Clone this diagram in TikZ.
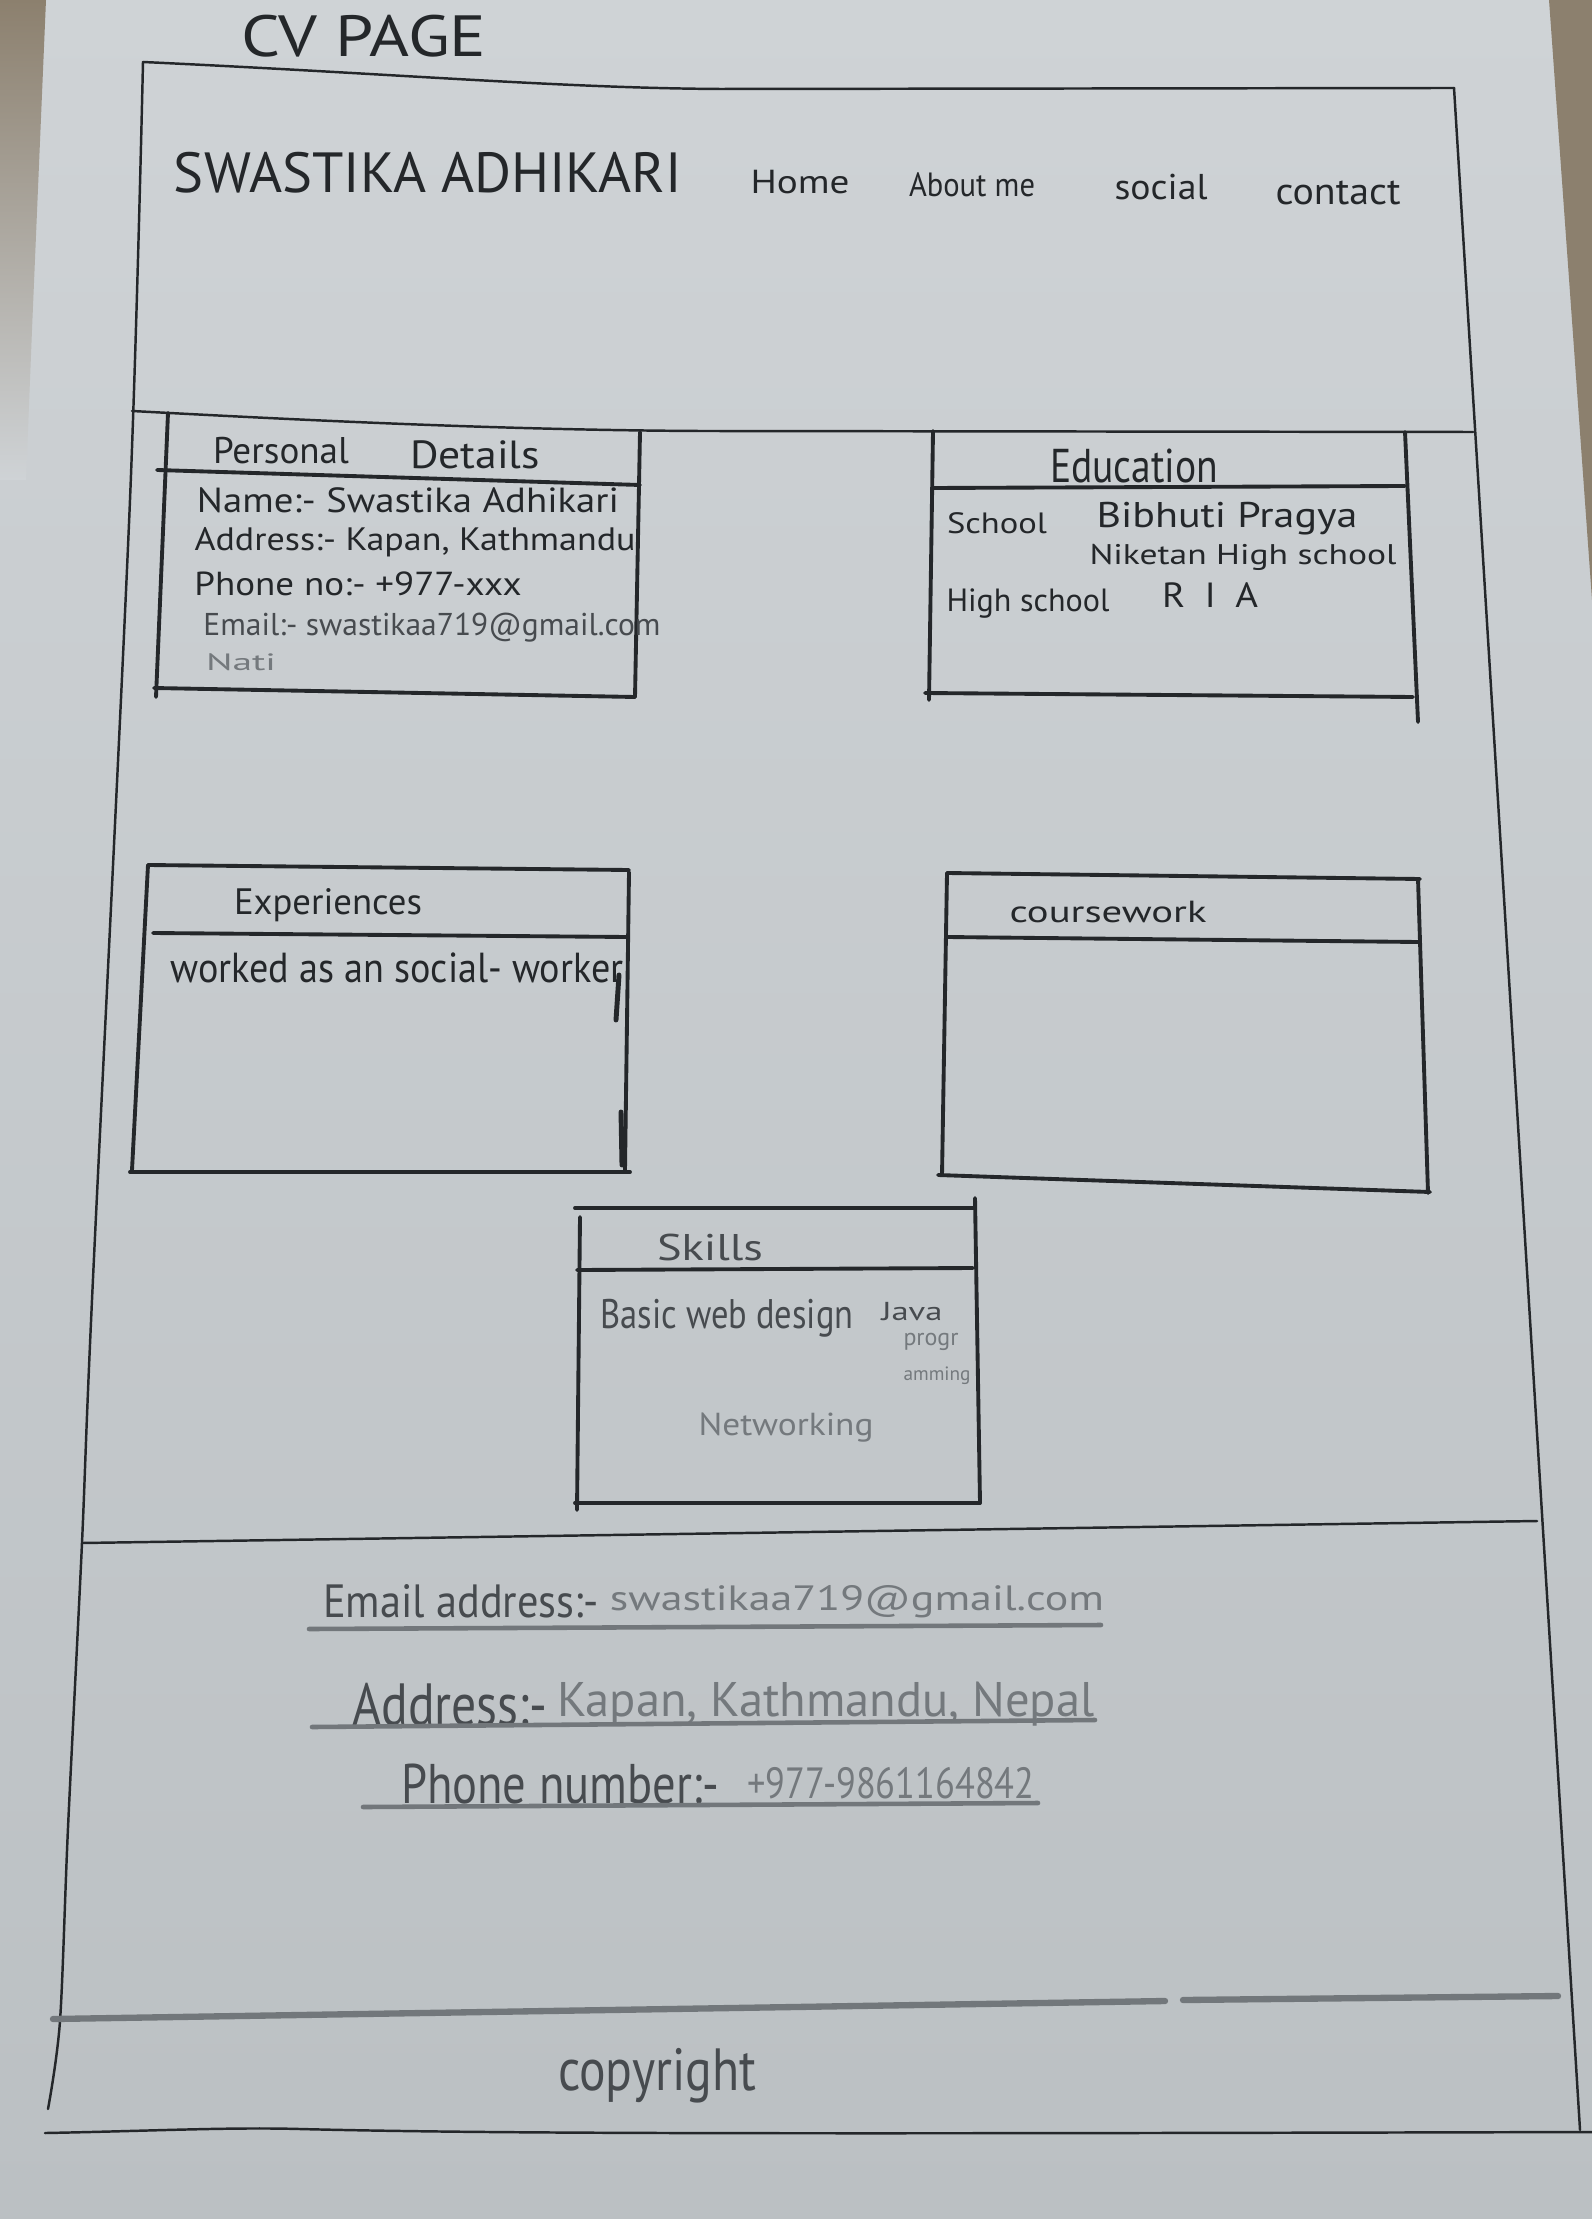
\documentclass[tikz,border=0pt]{standalone}
\usepackage{fontspec}
\setmainfont{PT Sans}
\usepackage{graphicx}

% one unit = one pixel of the sheet
\newlength\pxu
\setlength\pxu{0.01cm}
% handwritten word fitted to a given width; the option stretches it vertically
\newcommand\hw[3][1]{\resizebox{#2\pxu}{!}{\scalebox{1}[#1]{#3}}}

\definecolor{papertop}{HTML}{CFD3D6}
\definecolor{paperbot}{HTML}{BBC0C3}
\definecolor{tablec}{HTML}{8C806E}
\definecolor{inkc}{HTML}{24272A}
\definecolor{greyink}{HTML}{474B4F}
\definecolor{fadedc}{HTML}{74797D}
\definecolor{pencilc}{HTML}{72777B}

\begin{document}
\begin{tikzpicture}[x=0.01cm,y=-0.01cm,
  ink/.style={draw=inkc,line width=1.1pt,line cap=round,line join=round},
  frame/.style={draw=inkc,line width=0.7pt,line cap=round},
  pencil/.style={draw=pencilc,line width=1.3pt,line cap=round},
  txt/.style={inner sep=0pt,text=inkc},
  soft/.style={txt,text=greyink},
  faint/.style={txt,text=fadedc}]

\useasboundingbox (0,0) rectangle (1592,2219);

% sheet of paper on the table
\shade[top color=papertop,bottom color=paperbot] (0,0) rectangle (1592,2219);
\shade[top color=tablec,bottom color=papertop] (0,0) -- (46,0) -- (32,330) -- (26,480) -- (0,480) -- cycle;
\fill[tablec] (1549,0) -- (1592,0) -- (1592,600) -- cycle;

% page frame
\draw[frame] (143,62) .. controls (400,74) and (560,88) .. (720,89) -- (1454,88);
\draw[frame] (1454,88) -- (1580,2130);
\draw[frame] plot[smooth] coordinates {(143,62) (130,500) (92,1300) (82,1543) (68,1828) (60,2021) (48,2109)};
\draw[frame] (132,411) .. controls (300,420) and (500,430) .. (700,431) -- (1473,432);
\draw[frame] (82,1543) -- (1537,1521);
\draw[pencil,line width=1.8pt] (53,2019) -- (1165,2001);
\draw[pencil,line width=1.8pt] (1183,2000) -- (1558,1996);
\draw[frame] (45,2133) .. controls (150,2131) and (230,2127) .. (300,2129) .. controls (500,2134) and (800,2134) .. (1592,2132);

% header
\node[txt] (title) at (364,36) {\hw[0.85]{245}{CV PAGE}};
\node[txt] (name) at (428,173) {\hw[1.0]{508}{SWASTIKA ADHIKARI}};
\node[txt] (home) at (800,182) {\hw[0.85]{99}{Home}};
\node[txt] (about) at (972,185) {\hw[1.1]{126}{About me}};
\node[txt] (social) at (1161,187) {\hw[0.95]{93}{social}};
\node[txt] (contact) at (1338,193) {\hw[0.95]{125}{contact}};

% personal details box
\draw[ink] (168,413) -- (156,697);
\draw[ink] (157,470) -- (640,485);
\draw[ink] (640,432) -- (635,697);
\draw[ink] (154,688) -- (635,697);
\node[txt] (pdA) at (281,451) {\hw[1.0]{136}{Personal}};
\node[txt] (pdB) at (475,455) {\hw[0.9]{130}{Details}};
\node[txt] (pName) at (408,500) {\hw[0.9]{422}{Name:- Swastika Adhikari}};
\node[txt] (pAddr) at (415,542) {\hw[0.9]{441}{Address:- Kapan, Kathmandu}};
\node[txt] (pPhone) at (358,584) {\hw[0.9]{327}{Phone no:- +977-xxx}};
\node[soft] (pEmail) at (432,628) {\hw[1.0]{457}{Email:- swastikaa719@gmail.com}};
\node[faint] (pNat) at (241,662) {\hw[0.6]{70}{Nati}};

% education box
\draw[ink] (933,431) -- (929,700);
\draw[ink] (933,488) -- (1405,486);
\draw[ink] (1405,432) -- (1418,722);
\draw[ink] (925,693) -- (1413,697);
\node[txt] (eduT) at (1134,466) {\hw[1.2]{168}{Education}};
\node[txt] (eSchool) at (997,523) {\hw[0.85]{100}{School}};
\node[txt] (eBib) at (1227,519) {\hw[0.85]{261}{Bibhuti Pragya}};
\node[txt] (eNik) at (1243,557) {\hw[0.8]{307}{Niketan High school}};
\node[txt] (eHigh) at (1028,604) {\hw[1.0]{163}{High school}};
\node[txt] (eRIA) at (1210,595) {\hw[0.9]{96}{R\hspace{0.5em}I\hspace{0.5em}A}};

% experiences box
\draw[ink] (148,865) -- (629,870);
\draw[ink] (148,865) -- (132,1170);
\draw[ink] (153,933) -- (627,937);
\draw[ink] (629,872) -- (625,1170);
\draw[ink,line width=1.4pt] (619,975) -- (616,1020);
\draw[ink,line width=1.4pt] (621,1112) -- (622,1165);
\draw[ink] (130,1172) -- (630,1172);
\node[txt] (expT) at (328,905) {\hw[1.0]{188}{Experiences}};
\node[txt] (expW) at (397,968) {\hw[1.1]{453}{worked as an social- worker}};

% coursework box
\draw[ink] (947,873) -- (1420,879);
\draw[ink] (947,873) -- (942,1175);
\draw[ink] (947,937) -- (1418,942);
\draw[ink] (1418,879) -- (1428,1193);
\draw[ink] (938,1175) -- (1430,1192);
\node[txt] (cwT) at (1108,912) {\hw[0.75]{197}{coursework}};

% skills box
\draw[ink] (575,1208) -- (975,1208);
\draw[ink] (580,1217) -- (577,1510);
\draw[ink] (577,1270) -- (973,1268);
\draw[ink] (975,1198) -- (980,1503);
\draw[ink] (575,1503) -- (980,1503);
\node[soft] (skT) at (710,1247) {\hw[0.8]{106}{Skills}};
\node[soft] (skWeb) at (727,1318) {\hw[1.2]{253}{Basic web design}};
\node[soft] (skJava) at (912,1312) {\hw[0.75]{61}{Java}};
\node[faint] (skProg) at (931,1342) {\hw[1.0]{55}{progr}};
\node[faint] (skAmm) at (937,1376) {\hw[1.0]{67}{amming}};
\node[faint] (skNet) at (786,1428) {\hw[0.9]{175}{Networking}};

% contact footer
\node[soft] (fEmailL) at (461,1601) {\hw[1.1]{276}{Email address:-}};
\node[faint] (fEmailR) at (857,1602) {\hw[0.8]{494}{swastikaa719@gmail.com}};
\draw[pencil] (309,1629) -- (1101,1625);
\node[soft] (fAddrL) at (450,1705) {\hw[1.2]{195}{Address:-}};
\node[faint] (fAddrR) at (826,1704) {\hw[1.0]{537}{Kapan, Kathmandu, Nepal}};
\draw[pencil] (312,1727) -- (1095,1720);
\node[soft] (fPhoneL) at (560,1784) {\hw[1.2]{318}{Phone number:-}};
\node[faint] (fPhoneR) at (891,1783) {\hw[1.2]{287}{+977-9861164842}};
\draw[pencil] (363,1807) -- (1038,1803);

% copyright strip
\node[soft] (copy) at (657,2076) {\hw[1.2]{198}{copyright}};

\end{tikzpicture}
\end{document}
